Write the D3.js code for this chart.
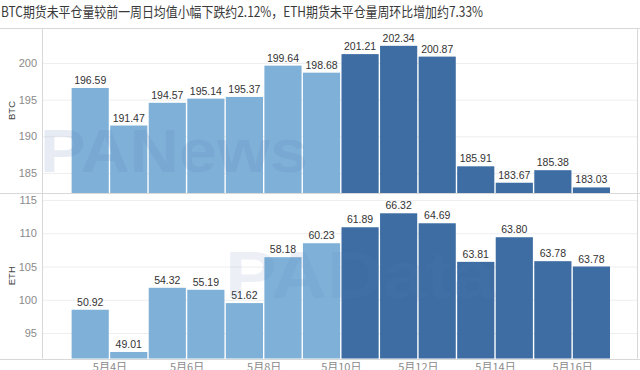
<!DOCTYPE html>
<html><head><meta charset="utf-8">
<script src="https://cdn.jsdelivr.net/npm/d3@7"></script>
<style>
html,body{margin:0;padding:0;background:#fff;}
svg{display:block;}
</style></head>
<body>
<svg id="chart" width="640" height="370"></svg>
<script>
// ---- data ----
const title = "BTC期货未平仓量较前一周日均值小幅下跌约2.12%，ETH期货未平仓量周环比增加约7.33%";
const dates = ["2022-05-03","2022-05-04","2022-05-05","2022-05-06","2022-05-07","2022-05-08","2022-05-09",
               "2022-05-10","2022-05-11","2022-05-12","2022-05-13","2022-05-14","2022-05-15","2022-05-16"];
const weeks = ["prev","prev","prev","prev","prev","prev","prev","curr","curr","curr","curr","curr","curr","curr"];
const btcValues = [196.59,191.47,194.57,195.14,195.37,199.64,198.68,201.21,202.34,200.87,185.91,183.67,185.38,183.03];
const ethBarValues = [98.5,92.15,101.8,101.5,99.5,106.4,108.5,110.9,113.0,111.5,105.7,109.4,105.8,105.0];
const ethLabels = ["50.92","49.01","54.32","55.19","51.62","58.18","60.23","61.89","66.32","64.69","63.81","63.80","63.78","63.78"];
const btcTicks = [185,190,195,200];
const ethTicks = [95,100,105,110,115];
const xTickDates = ["2022-05-04","2022-05-06","2022-05-08","2022-05-10","2022-05-12","2022-05-14","2022-05-16"];
const xTickLabels = ["5月4日","5月6日","5月8日","5月10日","5月12日","5月14日","5月16日"];
const weekColors = {prev:"#7fb1d8", curr:"#3d6da3"};

// ---- layout ----
const svg = d3.select("#chart");
const W = 640, H = 370;
const left = 42, right = 638;
const btcTop = 28, btcBottom = 193, ethTop = 193, ethBottom = 358.5;
const parse = d3.utcParse("%Y-%m-%d");
const dt = dates.map(parse);
const first = dt[0], last = d3.utcDay.offset(dt[dt.length-1], 1);

const x = d3.scaleUtc()
  .domain([d3.utcHour.offset(first, -17.9), d3.utcHour.offset(last, 17)])
  .range([left, right]);
const yB = d3.scaleLinear().domain([182.27, 204.77]).range([btcBottom, btcTop]);
const yE = d3.scaleLinear().domain([91.17, 116.05]).range([ethBottom, ethTop]);

const font = "'Liberation Sans', Arial, sans-serif";

// title
svg.append("text").attr("x", 1).attr("y", 17)
  .attr("font-family", "'Noto Sans CJK SC', sans-serif")
  .attr("font-size", 14).attr("fill", "#3a3a3a")
  .attr("textLength", 482).attr("lengthAdjust", "spacingAndGlyphs")
  .text(title);

function panel(y, ticks, barVals, labels, name, top, bottom) {
  const g = svg.append("g");
  // gridlines
  g.append("g").attr("transform", `translate(${left},0)`)
    .call(d3.axisLeft(y).tickValues(ticks).tickSize(-(right-left)).tickFormat(""))
    .call(s => s.select(".domain").remove())
    .call(s => s.selectAll("line").attr("stroke", "#eeeeee"));
  // tick labels
  g.append("g").attr("transform", `translate(${left},0)`)
    .call(d3.axisLeft(y).tickValues(ticks).tickSize(0).tickPadding(5))
    .call(s => s.select(".domain").remove())
    .call(s => s.selectAll("text").attr("fill", "#8a8a8a").attr("font-size", 11).attr("font-family", font));
  // bars
  g.selectAll("rect.bar").data(barVals).join("rect")
    .attr("class", "bar")
    .attr("x", (d,i) => x(dt[i]) + 0.7)
    .attr("width", (d,i) => x(d3.utcDay.offset(dt[i],1)) - x(dt[i]) - 1.4)
    .attr("y", d => y(d))
    .attr("height", d => bottom - y(d))
    .attr("fill", (d,i) => weekColors[weeks[i]]);
  // value labels
  g.selectAll("text.val").data(barVals).join("text")
    .attr("class", "val")
    .attr("x", (d,i) => (x(dt[i]) + x(d3.utcDay.offset(dt[i],1))) / 2)
    .attr("y", d => y(d) - 4)
    .attr("text-anchor", "middle")
    .attr("font-family", font).attr("font-size", 10.5).attr("fill", "#333")
    .text((d,i) => labels[i]);
  // axis title
  g.append("text")
    .attr("transform", `translate(15,${(top+bottom)/2}) rotate(-90)`)
    .attr("text-anchor", "middle")
    .attr("font-family", font).attr("font-size", 9.5).attr("fill", "#444")
    .text(name);
}

panel(yB, btcTicks, btcValues, btcValues.map(v => v.toFixed(2)), "BTC", btcTop, btcBottom);
panel(yE, ethTicks, ethBarValues, ethLabels, "ETH", ethTop, ethBottom);

// frame lines
const frame = svg.append("g").attr("stroke", "#d8d8d8").attr("stroke-width", 1);
[btcTop, btcBottom, ethBottom].forEach(v => frame.append("line").attr("x1", 0).attr("x2", W).attr("y1", Math.round(v)+0.5).attr("y2", Math.round(v)+0.5));
frame.append("line").attr("x1", left+0.5).attr("x2", left+0.5).attr("y1", btcTop).attr("y2", ethBottom);
frame.append("line").attr("x1", right-0.5).attr("x2", right-0.5).attr("y1", btcTop).attr("y2", ethBottom);

// x axis labels
svg.append("g").attr("transform", `translate(0,${ethBottom})`)
  .call(d3.axisBottom(x).tickValues(xTickDates.map(parse)).tickSize(0).tickPadding(5)
        .tickFormat((d,i) => xTickLabels[i]))
  .call(s => s.select(".domain").remove())
  .call(s => s.selectAll("text").attr("fill", "#8a8a8a").attr("font-size", 11)
        .attr("font-family", "'Noto Sans CJK SC', sans-serif"));

// watermarks (semi-transparent, on top as in the source image)
svg.append("text").attr("x", 40).attr("y", 172)
  .attr("font-family", font).attr("font-weight", "bold").attr("font-size", 62)
  .attr("fill", "#5b7fb8").attr("opacity", 0.14)
  .attr("textLength", 268).attr("lengthAdjust", "spacingAndGlyphs")
  .attr("pointer-events", "none")
  .text("PANews");
svg.append("text").attr("x", 225).attr("y", 298)
  .attr("font-family", font).attr("font-weight", "bold").attr("font-size", 66)
  .attr("fill", "#5b7fb8").attr("opacity", 0.11)
  .attr("textLength", 270).attr("lengthAdjust", "spacingAndGlyphs")
  .attr("pointer-events", "none")
  .text("PAData");
</script>
</body></html>
